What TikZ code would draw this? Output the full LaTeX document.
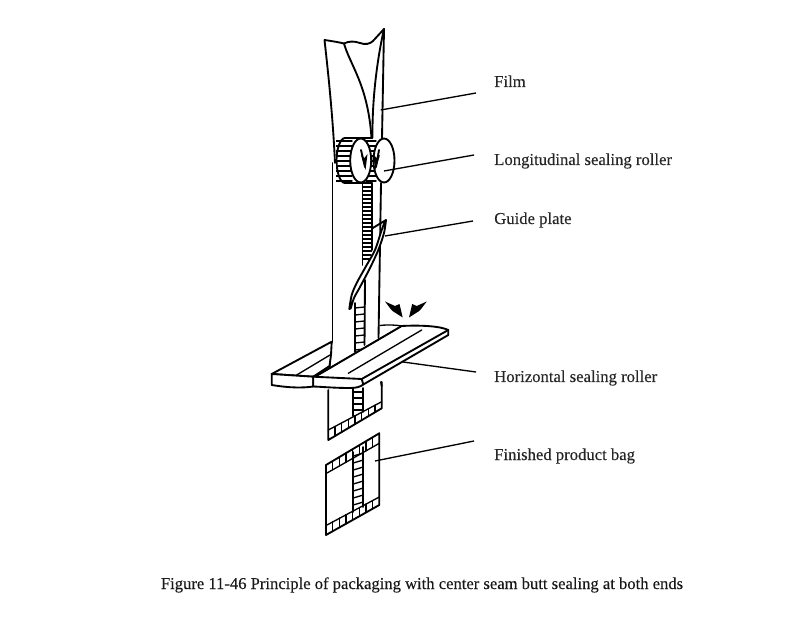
\documentclass[tikz,border=0pt]{standalone}
\usepackage{fontspec}
\setmainfont{Liberation Serif}[BoldFont={Liberation Serif},BoldFeatures={FakeBold=0.2}]
\usetikzlibrary{calc}
\tikzset{
  ln/.style={line width=1.4pt,line join=round,line cap=round,black},
  thin ln/.style={line width=1pt,line join=round,line cap=round,black},
  leader/.style={line width=1pt,black},
  lab/.style={anchor=base west,inner sep=0pt,font=\fontsize{12.5pt}{14pt}\selectfont\bfseries,text=black!85},
  captext/.style={anchor=base,inner sep=0pt,font=\fontsize{12.45pt}{14pt}\selectfont\bfseries,text=black!90},
  tickmark/.style={fill=black,draw=none}
}
\begin{document}
\begin{tikzpicture}[x=0.75pt,y=-0.75pt]
\useasboundingbox (0,0) rectangle (792,634);
\fill[white] (0,0) rectangle (792,634);

% Film, upper part
\draw[ln] (335,163) .. controls (333,120) and (329,80) .. (324.5,40)
  .. controls (331,41) and (338,42) .. (344,43.5)
  .. controls (349,41) and (354,41) .. (360,43)
  .. controls (365,45) and (370,44) .. (373,41) -- (384,29) -- (382,138);
\draw[ln] (384,29) .. controls (377,60) and (372,100) .. (372.5,138);
\draw[ln] (344,43.5) .. controls (350,65) and (368,85) .. (371.5,138);

% Tube
\draw[ln] (332.5,163) -- (332.5,342);
\draw[ln] (381,183) -- (378.5,338);
\draw[ln] (330,355) -- (329.5,368);
\draw[ln] (328.3,390) -- (328.3,440) -- (381.7,408.3) -- (381.7,382);
\draw[thin ln] (328.3,430) -- (381.7,401.7);
\foreach \t in {0.125,0.25,...,0.9} {
  \draw[thin ln] ($(328.3,430)!\t!(381.7,401.7)$) -- ($(328.3,440)!\t!(381.7,408.3)$);
}

% Centre seam, top
\draw[ln] (362.5,183) -- (362.5,265);
\draw[ln] (372,183) -- (372,250);
\foreach \y in {187,191,...,262} {
  \draw[thin ln] (362.5,\y) -- (371.5,\y);
}
% Centre seam, bottom of the plate
\draw[ln] (355,303) -- (355,352);
\draw[ln] (365,280) -- (364.5,345);
\foreach \y in {308,315,...,350} {
  \draw[thin ln] (355,\y) -- (364.5,\y-1);
}
\draw[ln] (353.3,388) -- (353.3,416);
\draw[ln] (363.3,388) -- (363.3,412);
\foreach \y in {392,398,...,412} {
  \draw[thin ln] (353.3,\y) -- (363.3,\y);
}

% Guide plate
\draw[ln,fill=white] (372,228.5) -- (386,220)
  plot[smooth] coordinates {(386,220) (384,233) (378.3,250) (370,268) (360,287) (354,298) (350.7,308.5)}
  -- (349.3,309)
  plot[smooth] coordinates {(349.3,309) (351.7,295) (356.7,283) (366.7,265) (375,250) (381.7,230) (385,221.5)};

% Rollers
\begin{scope}
  \clip (336,137) rectangle (362,184);
  \draw[ln,fill=white] (345,138) .. controls (340,138) and (336.5,150) .. (336.5,160)
     .. controls (336.5,172) and (340,183) .. (345,183) -- (362,183) -- (362,138) -- cycle;
  \foreach \y in {141,146,...,181} {
    \draw[thin ln] (336,\y) -- (352,\y);
  }
\end{scope}
\draw[ln] (345,138) -- (372,138);
\draw[ln] (345,183) -- (372,183);
\foreach \y in {141,146,...,181} {
  \draw[thin ln] (366,\y) -- (376,\y);
}
\draw[ln,fill=white] (360.7,160.5) ellipse [x radius=10.5,y radius=22];
\draw[ln,fill=white] (384,160.5) ellipse [x radius=10.5,y radius=22];
\draw[ln] (361,150) -- (365,167);
\draw[ln] (379,150) -- (376,167);
\fill[tickmark] (365.5,170) -- (361,155) -- (364.5,158) -- (367.5,154) -- cycle;
\fill[tickmark] (375.5,170) -- (373,154) -- (376.5,158) -- (380,155) -- cycle;

% Horizontal sealing rollers
\draw[ln,fill=white] (271.7,374) -- (331.7,341.7) -- (331,355) -- (329.5,366) -- (313.3,376.7) -- cycle;
\draw[ln,fill=white] (271.7,374) -- (313.3,376.7) -- (313.3,386.5)
   .. controls (303,388) and (290,388) .. (271.7,385) -- cycle;
\draw[thin ln] (296.7,375) -- (330,355);
\draw[ln,fill=white] (313.3,376.7) -- (318,375) -- (401.7,326)
   .. controls (420,325) and (440,326) .. (448.3,330)
   -- (448.3,335) -- (363.3,384.5) .. controls (360,387) and (356,388) .. (350,388)
   .. controls (335,388) and (325,387) .. (313.3,386.5) -- cycle;
\draw[ln] (313.3,376.7) -- (361.7,379) -- (448.3,330);
\draw[ln] (361.7,379) -- (363.3,384.5);
\draw[thin ln] (318,375) -- (401.7,326);
\draw[thin ln] (348.3,373.3) -- (421.7,330);
\draw[ln] (381,382) -- (381.7,386);
\draw[thin ln] (380,325.5) .. controls (388,324.5) and (396,325) .. (401.7,326);

% Press arrows
\fill[tickmark] (402.7,317.5) -- (399.5,304) -- (395,306) -- (385,301.5) -- (391,309.5) -- (392.5,311) -- cycle;
\fill[tickmark] (409,317.5) -- (412.2,304) -- (416.7,306) -- (426.7,301.5) -- (420.7,309.5) -- (419.2,311) -- cycle;

% Finished product bag
\draw[ln] (326,465) -- (379.3,433.3) -- (379.3,505) -- (326,535) -- cycle;
\draw[thin ln] (327,473) -- (379.3,443.3);
\draw[thin ln] (327,525) -- (379.3,497);
\foreach \t in {0.125,0.25,...,0.9} {
  \draw[thin ln] ($(326,465)!\t!(379.3,433.3)$) -- ($(326,473.5)!\t!(379.3,443.3)$);
  \draw[thin ln] ($(326,525)!\t!(379.3,497)$) -- ($(326,535)!\t!(379.3,505)$);
}
\draw[ln] (353.3,452) -- (353.3,512);
\draw[ln] (363.3,447) -- (363.3,507);
\foreach \y in {456,463,...,505} {
  \draw[thin ln] (353.3,\y) -- (363.3,\y-3);
}

% Labels
\node[lab] (film) at (494,87) {Film};
\node[lab] (lsr) at (494,165) {Longitudinal sealing roller};
\node[lab] (gp) at (494,224) {Guide plate};
\node[lab] (hsr) at (494,382) {Horizontal sealing roller};
\node[lab] (fpb) at (494,460) {Finished product bag};
\node[captext] (caption) at (422,589) {Figure 11-46 Principle of packaging with center seam butt sealing at both ends};

% Leader lines
\coordinate (pfilm) at (380.7,110);
\coordinate (plsr) at (384,171);
\coordinate (pgp) at (385,236);
\coordinate (phsr) at (403,362);
\coordinate (pfpb) at (375,461);
\coordinate (efilm) at (476,93);
\coordinate (elsr) at (474,155);
\coordinate (egp) at (473,221);
\coordinate (ehsr) at (476,372);
\coordinate (efpb) at (474,441);
\draw[leader] (pfilm) -- (efilm);
\draw[leader] (plsr) -- (elsr);
\draw[leader] (pgp) -- (egp);
\draw[leader] (phsr) -- (ehsr);
\draw[leader] (pfpb) -- (efpb);
\end{tikzpicture}
\end{document}
